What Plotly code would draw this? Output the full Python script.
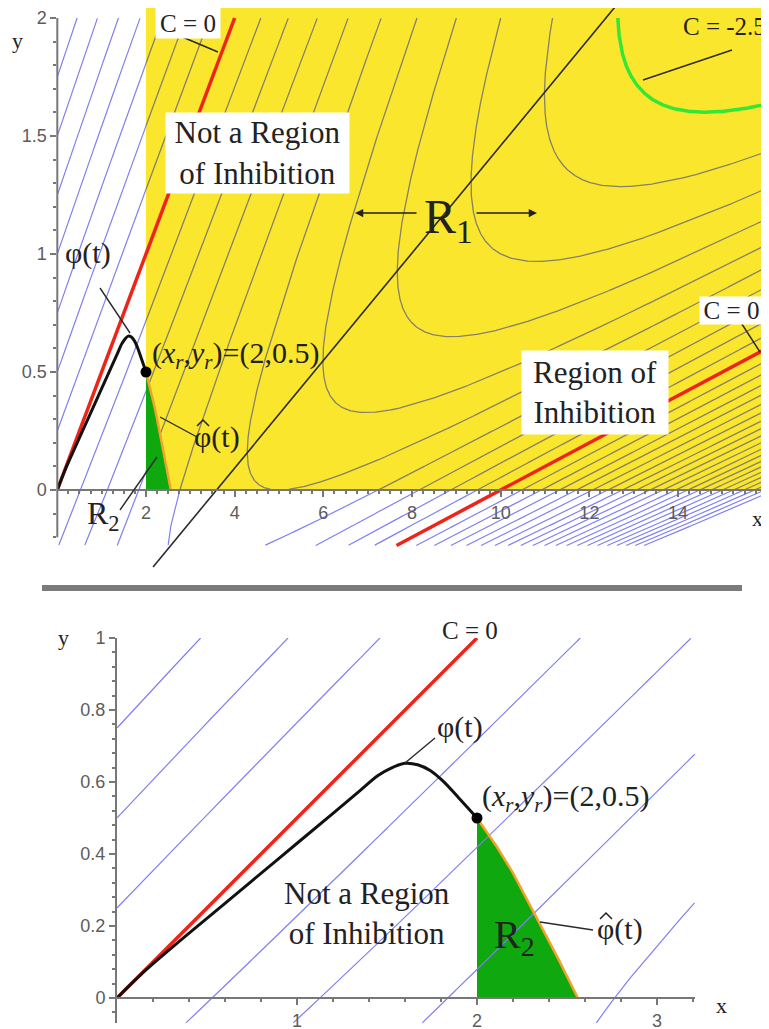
import numpy as np
import plotly.graph_objects as go

W, H = 769, 1029
OFF = 8  # browser body margin: page pixels = figure pixels + 8

# ---------------- data ----------------
# Contoured function C(x, y) = (x - A*y) * (x - B*(y+1)) / (K*(y+1))
C_A, C_B, C_K = 2.0, 10.0, 20.0

LEVELS_TOP = [-2.25, -2.0, -1.75, -1.5, -1.25, -1.0, -0.75, -0.5, -0.25,
              0.25, 0.5, 0.75, 1.0, 1.25, 1.5, 1.75, 2.0, 2.25, 2.5, 2.75,
              3.0, 3.25, 3.5, 3.75, 4.0, 4.25, 4.5, 4.75, 5.0]
LEVEL_GREEN = -2.5
LEVELS_BOTTOM = [-1.0, -0.75, -0.5, -0.25, 0.25, 0.5, 0.75, 1.0]

# trajectory phi(t) and phi-hat(t)
PHI_X = [0.0, 0.15, 0.3, 0.6, 0.9, 1.2, 1.35, 1.45, 1.52, 1.6, 1.67, 1.74, 1.81, 1.9, 2.0]
PHI_Y = [0.0, 0.073, 0.138, 0.263, 0.388, 0.513, 0.576, 0.618, 0.638, 0.652, 0.648, 0.632, 0.603, 0.555, 0.5]
PHIHAT_X = [2.0, 2.11, 2.2, 2.33, 2.45, 2.56]
PHIHAT_Y = [0.5, 0.42, 0.347, 0.225, 0.11, 0.0]
POINT_R = (2.0, 0.5)

# black divider line (R1) in the top panel
DIV_X = [2.16, 12.68]
DIV_Y = [-0.326, 2.07]

# tick labels
TOP_XTICKS = [2, 4, 6, 8, 10, 12, 14]
TOP_YTICKS = [0, 0.5, 1, 1.5, 2]
TOP_YTICKTEXT = ["0", "0.5", "1", "1.5", "2"]
BOT_XTICKS = [1, 2, 3]
BOT_YTICKS = [0, 0.2, 0.4, 0.6, 0.8, 1.0]
BOT_YTICKTEXT = ["0", "0.2", "0.4", "0.6", "0.8", "1"]

# ---------------- helpers ----------------
TOP_DOM = dict(x=(0.0, 16.2), y=(-0.235, 2.0))
BOT_DOM = dict(x=(0.0, 3.21), y=(-0.07, 1.0))
YELLOW_X0, YELLOW_Y0 = 2.0, 0.0


def level_curve(c, xlo, xhi, ylo, yhi, n=1400):
    A, B, K = C_A, C_B, C_K
    u1 = np.linspace(xlo - A * yhi, xhi - A * ylo, n)
    ys = np.linspace(ylo, yhi, n)
    b = (A + B) * ys + B
    q = (ys + 1) * (A * B * ys - c * K)
    disc = b * b - 4 * q
    ok = disc >= 0
    sq = np.sqrt(np.where(ok, disc, 0.0))
    ua = ((b - sq) / 2 - A * ys)[ok]
    ub = ((b + sq) / 2 - A * ys)[ok]
    u = np.unique(np.concatenate([u1, ua, ub]))
    with np.errstate(divide="ignore", invalid="ignore"):
        v = c * K * (u - A) / ((B - A) * u + c * K)
        y = (u - v - B) / (B - A)
        x = u + A * y
    inside = np.isfinite(x) & np.isfinite(y) & (x >= xlo) & (x <= xhi) & (y >= ylo) & (y <= yhi)
    return np.where(inside, x, np.nan), np.where(inside, y, np.nan)


def split(x, y):
    valid = np.isfinite(x)
    seg_ok = valid[:-1] & valid[1:]
    mx = (x[:-1] + x[1:]) / 2
    my = (y[:-1] + y[1:]) / 2
    in_y = (mx >= YELLOW_X0) & (my >= YELLOW_Y0)
    seg_in = seg_ok & in_y
    seg_out = seg_ok & ~in_y

    def pts(seg):
        p = np.zeros(len(x), bool)
        p[:-1] |= seg
        p[1:] |= seg
        return p
    pi, po = pts(seg_in), pts(seg_out)
    return (np.where(pi, x, np.nan), np.where(pi, y, np.nan),
            np.where(po, x, np.nan), np.where(po, y, np.nan))


def gather(levels, dom, do_split):
    gx, gy, bx, by = [], [], [], []
    for c in levels:
        x, y = level_curve(c, dom["x"][0], dom["x"][1], dom["y"][0], dom["y"][1])
        if do_split:
            xi, yi, xo, yo = split(x, y)
            gx += [xi, [np.nan]]; gy += [yi, [np.nan]]
            bx += [xo, [np.nan]]; by += [yo, [np.nan]]
        else:
            bx += [x, [np.nan]]; by += [y, [np.nan]]
    cat = lambda L: np.round(np.concatenate(L), 4) if L else np.array([])
    return cat(gx), cat(gy), cat(bx), cat(by)


def P(px, py):
    """page pixel -> paper fraction"""
    return (px - OFF) / W, 1 - (py - OFF) / H


def fx_(px):
    return (px - OFF) / W


def fy_(py):
    return 1 - (py - OFF) / H


BLUE = "#7f7ff2"
GRAY = "#858068"
RED = "#ee2418"
LIME = "#35e635"
GREEN = "#0fa80f"
ORANGE = "#f2a22a"
YELLOW = "#fbe62e"
TXT = "#222222"
AX = "#777777"
SERIF = "Liberation Serif, Times New Roman, serif"
SANS = "Liberation Sans, Arial, sans-serif"

fig = go.Figure()

# ---------------- top panel ----------------
gx, gy, bx, by = gather(LEVELS_TOP, TOP_DOM, True)
fig.add_trace(go.Scatter(x=bx, y=by, mode="lines", line=dict(color=BLUE, width=1.2),
                         xaxis="x", yaxis="y", hoverinfo="skip"))
fig.add_trace(go.Scatter(x=gx, y=gy, mode="lines", line=dict(color=GRAY, width=1.3),
                         xaxis="x", yaxis="y", hoverinfo="skip"))
lx, ly = level_curve(LEVEL_GREEN, *TOP_DOM["x"], *TOP_DOM["y"])
fig.add_trace(go.Scatter(x=lx, y=ly, mode="lines", line=dict(color=LIME, width=3.5),
                         xaxis="x", yaxis="y", hoverinfo="skip"))
# C = 0 lines
ry_up = np.array([0.0, TOP_DOM["y"][1]])
fig.add_trace(go.Scatter(x=C_A * ry_up, y=ry_up, mode="lines", line=dict(color=RED, width=3.5),
                         xaxis="x", yaxis="y", hoverinfo="skip"))
ry_lo = np.array([TOP_DOM["y"][0], TOP_DOM["x"][1] / C_B - 1])
fig.add_trace(go.Scatter(x=C_B * (ry_lo + 1), y=ry_lo, mode="lines", line=dict(color=RED, width=3.5),
                         xaxis="x", yaxis="y", hoverinfo="skip"))
fig.add_trace(go.Scatter(x=DIV_X, y=DIV_Y, mode="lines", line=dict(color="#2a2a2a", width=1.6),
                         xaxis="x", yaxis="y", hoverinfo="skip"))


def region2():
    fx = [PHIHAT_X[0]] + PHIHAT_X + [PHIHAT_X[0]]
    fy = [0.0] + PHIHAT_Y + [0.0]
    return fx, fy


rx, ryy = region2()
fig.add_trace(go.Scatter(x=rx, y=ryy, mode="lines", fill="toself", fillcolor=GREEN,
                         line=dict(width=0, color=GREEN), xaxis="x", yaxis="y", hoverinfo="skip"))
fig.add_trace(go.Scatter(x=PHIHAT_X, y=PHIHAT_Y, mode="lines", line=dict(color=ORANGE, width=2.5),
                         xaxis="x", yaxis="y", hoverinfo="skip"))
fig.add_trace(go.Scatter(x=PHI_X, y=PHI_Y, mode="lines", line=dict(color="#111111", width=3, shape="spline"),
                         xaxis="x", yaxis="y", hoverinfo="skip"))
fig.add_trace(go.Scatter(x=[POINT_R[0]], y=[POINT_R[1]], mode="markers",
                         marker=dict(color="#000000", size=11), xaxis="x", yaxis="y", hoverinfo="skip"))

# ---------------- bottom panel ----------------
fig.add_trace(go.Scatter(x=rx, y=ryy, mode="lines", fill="toself", fillcolor=GREEN,
                         line=dict(width=0, color=GREEN), xaxis="x2", yaxis="y2", hoverinfo="skip"))
_, _, bx2, by2 = gather(LEVELS_BOTTOM, BOT_DOM, False)
fig.add_trace(go.Scatter(x=bx2, y=by2, mode="lines", line=dict(color=BLUE, width=1.2),
                         xaxis="x2", yaxis="y2", hoverinfo="skip"))
ry_b = np.array([0.0, BOT_DOM["y"][1]])
fig.add_trace(go.Scatter(x=C_A * ry_b, y=ry_b, mode="lines", line=dict(color=RED, width=3.5),
                         xaxis="x2", yaxis="y2", hoverinfo="skip"))
fig.add_trace(go.Scatter(x=PHIHAT_X, y=PHIHAT_Y, mode="lines", line=dict(color=ORANGE, width=2.5),
                         xaxis="x2", yaxis="y2", hoverinfo="skip"))
fig.add_trace(go.Scatter(x=PHI_X, y=PHI_Y, mode="lines", line=dict(color="#111111", width=3, shape="spline"),
                         xaxis="x2", yaxis="y2", hoverinfo="skip"))
fig.add_trace(go.Scatter(x=[POINT_R[0]], y=[POINT_R[1]], mode="markers",
                         marker=dict(color="#000000", size=11), xaxis="x2", yaxis="y2", hoverinfo="skip"))

# ---------------- shapes ----------------
shapes = []
shapes.append(dict(type="rect", xref="x", yref="y", x0=YELLOW_X0, x1=16.4, y0=YELLOW_Y0, y1=2.2,
                   fillcolor=YELLOW, line=dict(width=0), layer="below"))
# y-axis line of top panel (from -0.2 to 2)
shapes.append(dict(type="line", xref="paper", yref="y", x0=fx_(57.3), x1=fx_(57.3), y0=-0.2, y1=2.0,
                   line=dict(color=AX, width=2)))
# separator bar
sx0, sy0 = P(42, 588)
sx1, _ = P(742, 588)
shapes.append(dict(type="line", xref="paper", yref="paper", x0=sx0, x1=sx1, y0=sy0, y1=sy0,
                   line=dict(color="#7b7b7b", width=6)))
# leader lines (page pixel positions)
leaders = [((180, 36), (218, 52)), ((732, 50), (643, 80)), ((738, 318), (760, 352)),
           ((100, 288), (130, 333)), ((160, 417), (197, 437)), ((120, 510), (157, 457)),
           ((435, 738), (405, 763)), ((540, 922), (593, 930))]
for (a, b) in leaders:
    x0, y0 = P(*a)
    x1, y1 = P(*b)
    shapes.append(dict(type="line", xref="paper", yref="paper", x0=x0, y0=y0, x1=x1, y1=y1,
                       line=dict(color="#2a2a2a", width=1.4)))
# circumflex accents of the phi-hat labels
for (cx, cy) in [(203, 420), (606, 913)]:
    pts = [P(cx - 6, cy + 6), P(cx, cy), P(cx + 6, cy + 6)]
    path = "M {:.6f},{:.6f} L {:.6f},{:.6f} L {:.6f},{:.6f}".format(*pts[0], *pts[1], *pts[2])
    shapes.append(dict(type="path", xref="paper", yref="paper", path=path,
                       line=dict(color=TXT, width=1.5)))

# ---------------- annotations ----------------
ann = []


def label(text, px, py, size, xanchor="center", box=None):
    x, y = P(px, py)
    d = dict(text=text, x=x, y=y, xref="paper", yref="paper", showarrow=False,
             xanchor=xanchor, yanchor="middle", font=dict(family=SERIF, size=size, color=TXT))
    if box:
        d.update(bgcolor="white", width=box[0], height=box[1], borderpad=0, align="center")
    ann.append(d)


XR = "(<i>x<sub>r</sub></i>,<i>y<sub>r</sub></i>)=(2,0.5)"
PHI = "\u03c6(t)"

label("C = 0", 188, 23, 25, box=(64, 30))
label("Not a Region<br>of Inhibition", 258, 153, 31, box=(183, 80))
label("R<sub>1</sub>", 448, 220, 48)
label("C = -2.5", 768, 27, 25, xanchor="right")
label("C = 0", 731, 310, 25, box=(63, 27))
label("Region of<br>Inhibition", 595, 393, 31, box=(146, 83))
label(XR, 150, 355, 30, xanchor="left")
label(PHI, 88, 253, 30)
label(PHI, 217, 437, 30)
label("R<sub>2</sub>", 103, 515, 32)
label("x", 757, 518, 22)
label("y", 17, 40, 22)

label("C = 0", 470, 630, 25)
label(PHI, 460, 727, 30)
label(XR, 480, 798, 30, xanchor="left")
label("Not a Region<br>of Inhibition", 367, 913, 31)
label("R<sub>2</sub>", 514, 937, 40)
label(PHI, 620, 929, 30)
label("x", 721, 1005, 22)
label("y", 63, 637, 22)

# R1 arrows
for head, tail in [((355, 213), (418, 213)), ((537, 213), (475, 213))]:
    hx, hy = P(*head)
    ann.append(dict(x=hx, y=hy, xref="paper", yref="paper", text="", showarrow=True,
                    ax=tail[0] - head[0], ay=tail[1] - head[1], arrowhead=2, arrowsize=1.1,
                    arrowwidth=1.5, arrowcolor="#222222"))

tickfont = dict(family=SANS, size=18, color="#5c5c5c")
top_minor_x = [v for v in np.round(np.arange(0.25, 16.0, 0.25), 2).tolist() if v not in TOP_XTICKS]
top_minor_y = [v for v in np.round(np.arange(-0.2, 2.01, 0.1), 2).tolist() if v not in TOP_YTICKS]
bot_minor_x = [v for v in np.round(np.arange(0.2, 3.21, 0.2), 2).tolist() if v not in BOT_XTICKS]
bot_minor_y = [v for v in np.round(np.arange(-0.04, 1.0, 0.04), 2).tolist() if v not in BOT_YTICKS]

# axis geometry from page pixels
TOP_X0_PX, TOP_PX_PER_X = 57.3, 44.34
TOP_Y0_PY, TOP_PX_PER_Y = 490.0, 236.0
top_x_right = (W + OFF - TOP_X0_PX) / TOP_PX_PER_X
top_y_top = (TOP_Y0_PY - OFF) / TOP_PX_PER_Y
top_y_bot = (TOP_Y0_PY - 580) / TOP_PX_PER_Y

common = dict(showgrid=False, zeroline=False, automargin=False, tickfont=tickfont,
              ticks="outside", ticklen=6, tickwidth=1.5, tickcolor=AX)

fig.update_layout(
    width=W, height=H, margin=dict(l=0, r=0, t=0, b=0, autoexpand=False),
    paper_bgcolor="white", plot_bgcolor="white", showlegend=False,
    shapes=shapes, annotations=ann,
    xaxis=dict(domain=[fx_(TOP_X0_PX), 1], range=[0, top_x_right], anchor="free", position=fy_(490),
               showline=True, linecolor=AX, linewidth=2,
               tickvals=TOP_XTICKS, ticktext=[str(t) for t in TOP_XTICKS],
               minor=dict(tickvals=top_minor_x, ticks="outside", ticklen=3, tickcolor=AX, showgrid=False),
               **common),
    yaxis=dict(domain=[fy_(580), 1], range=[top_y_bot, top_y_top], anchor="x",
               showline=False, tickvals=TOP_YTICKS, ticktext=TOP_YTICKTEXT,
               minor=dict(tickvals=top_minor_y, ticks="outside", ticklen=3, tickcolor=AX, showgrid=False),
               **common),
    xaxis2=dict(domain=[fx_(117), fx_(695)], range=[0, 3.211], anchor="free", position=fy_(998),
                showline=True, linecolor=AX, linewidth=2,
                tickvals=BOT_XTICKS, ticktext=[str(t) for t in BOT_XTICKS],
                minor=dict(tickvals=bot_minor_x, ticks="outside", ticklen=3, tickcolor=AX, showgrid=False),
                **common),
    yaxis2=dict(domain=[fy_(1023.2), fy_(638)], range=[-0.07, 1.0], anchor="x2",
                showline=True, linecolor=AX, linewidth=2,
                tickvals=BOT_YTICKS, ticktext=BOT_YTICKTEXT,
                minor=dict(tickvals=bot_minor_y, ticks="outside", ticklen=3, tickcolor=AX, showgrid=False),
                **common),
)

fig.write_html("out.html")
